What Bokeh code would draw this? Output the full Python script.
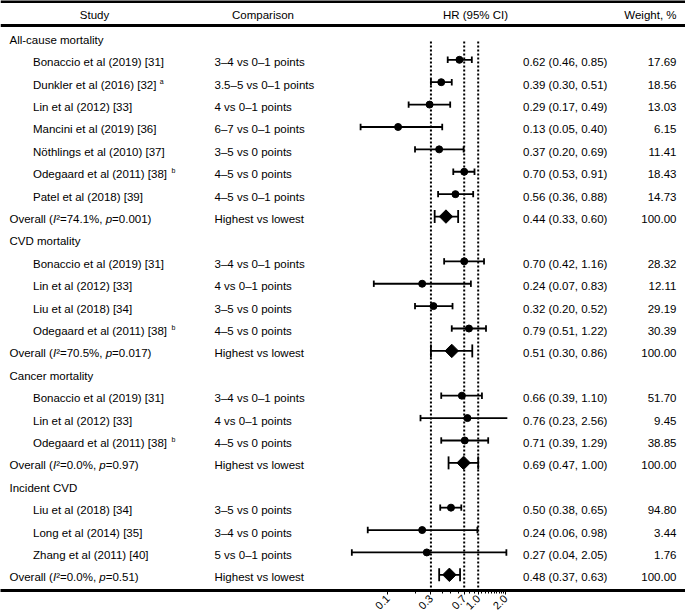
import math
from bokeh.plotting import figure
from bokeh.models import Range1d, LogScale, LogAxis, FixedTicker, NumeralTickFormatter, ColumnDataSource
from bokeh.core.properties import value
from bokeh.embed import file_html
from bokeh.resources import INLINE

# ---------------- data ----------------
sections = ["All-cause mortality", "CVD mortality", "Cancer mortality", "Incident CVD"]
studies = [
    ["Bonaccio et al (2019) [31]", "Dunkler et al (2016) [32]", "Lin et al (2012) [33]",
     "Mancini et al (2019) [36]", "Nöthlings et al (2010) [37]", "Odegaard et al (2011) [38]",
     "Patel et al (2018) [39]"],
    ["Bonaccio et al (2019) [31]", "Lin et al (2012) [33]", "Liu et al (2018) [34]",
     "Odegaard et al (2011) [38]"],
    ["Bonaccio et al (2019) [31]", "Lin et al (2012) [33]", "Odegaard et al (2011) [38]"],
    ["Liu et al (2018) [34]", "Long et al (2014) [35]", "Zhang et al (2011) [40]"],
]
study_notes = [
    ["", "a", "", "", "", "b", ""],
    ["", "", "", "b"],
    ["", "", "b"],
    ["", "", ""],
]
comparisons = [
    ["3–4 vs 0–1 points", "3.5–5 vs 0–1 points", "4 vs 0–1 points", "6–7 vs 0–1 points",
     "3–5 vs 0 points", "4–5 vs 0 points", "4–5 vs 0–1 points"],
    ["3–4 vs 0–1 points", "4 vs 0–1 points", "3–5 vs 0 points", "4–5 vs 0 points"],
    ["3–4 vs 0–1 points", "4 vs 0–1 points", "4–5 vs 0 points"],
    ["3–5 vs 0 points", "3–4 vs 0 points", "5 vs 0–1 points"],
]
hr = [
    [0.62, 0.39, 0.29, 0.13, 0.37, 0.70, 0.56],
    [0.70, 0.24, 0.32, 0.79],
    [0.66, 0.76, 0.71],
    [0.50, 0.24, 0.27],
]
ci_low = [
    [0.46, 0.30, 0.17, 0.05, 0.20, 0.53, 0.36],
    [0.42, 0.07, 0.20, 0.51],
    [0.39, 0.23, 0.39],
    [0.38, 0.06, 0.04],
]
ci_high = [
    [0.85, 0.51, 0.49, 0.40, 0.69, 0.91, 0.88],
    [1.16, 0.83, 0.52, 1.22],
    [1.10, 2.56, 1.29],
    [0.65, 0.98, 2.05],
]
weights = [
    [17.69, 18.56, 13.03, 6.15, 11.41, 18.43, 14.73],
    [28.32, 12.11, 29.19, 30.39],
    [51.70, 9.45, 38.85],
    [94.80, 3.44, 1.76],
]
overall_i2 = ["74.1%", "70.5%", "0.0%", "0.0%"]
overall_p = ["0.001", "0.017", "0.97", "0.51"]
overall_hr = [0.44, 0.51, 0.69, 0.48]
overall_low = [0.33, 0.30, 0.47, 0.37]
overall_high = [0.60, 0.86, 1.00, 0.63]
overall_weight = [100.00, 100.00, 100.00, 100.00]
overall_comparison = "Highest vs lowest"

ref_lines = [0.3, 0.7, 1.0]
x_ticks = [0.1, 0.3, 0.7, 1.0, 2.0]
x_minor_ticks = [0.2, 0.4, 0.5, 0.6, 0.8, 0.9, 1.1, 1.2, 1.3, 1.4, 1.5, 1.6, 1.7, 1.8, 1.9]
x_plot_max = 2.1

headers = ["Study", "Comparison", "HR (95% CI)", "Weight, %"]

# ---------------- layout constants (pixel units) ----------------
FONT = "Liberation Sans"
FS = 11.5
W_PX, H_PX = 685, 615
X_LEFT, X_RIGHT = 0.0, 685.0
Y_BOTTOM = 591.5
X_SEC, X_NAME, X_COMP, X_CI, X_W = 9.0, 32.5, 214.0, 522.5, 676.0
HDR_X = [94.0, 262.5, 475.0, 676.0]
HDR_Y = 14.5
ROW0, ROW_H = 39.5, 22.45
MARK_DY = -2.5
# log mapping: 0.1 at x=387.3, 1.0 at x=477.7
X_01, DECADE = 387.3, 90.4
log_start = -1 + (X_LEFT - X_01) / DECADE
log_end = -1 + (X_RIGHT - X_01) / DECADE

# Arial / Liberation Sans advance widths (1/1000 em)
AW = {' ': 278, '(': 333, ')': 333, '[': 278, ']': 278, '.': 278, ',': 278, '%': 889, '=': 584,
      '²': 333, 'B': 667, 'D': 722, 'O': 778, 'I': 278, 'a': 556, 'c': 500, 'd': 556, 'e': 556,
      'g': 556, 'i': 222, 'k': 500, 'l': 222, 'n': 556, 'o': 556, 'p': 556, 'r': 333, 't': 278,
      'u': 556, 'v': 500}


def tw(s, size=FS):
    return sum(AW.get(c, 556) for c in s) * size / 1000.0


p = figure(width=W_PX, height=H_PX, output_backend="svg", toolbar_location=None,
           x_axis_type=None, y_axis_type=None,
           x_range=Range1d(X_LEFT, X_RIGHT), y_range=Range1d(Y_BOTTOM, 0),
           min_border_left=0, min_border_right=0, min_border_top=0, min_border_bottom=0)
p.outline_line_color = None
p.background_fill_color = "white"
p.border_fill_color = "white"
p.extra_x_ranges = {"hr": Range1d(10 ** log_start, 10 ** log_end)}
p.extra_x_scales = {"hr": LogScale()}

# text collections
L = dict(x=[], y=[], t=[])      # left aligned normal
LI = dict(x=[], y=[], t=[])     # left aligned italic
R = dict(x=[], y=[], t=[])      # right aligned
SUP = dict(x=[], y=[], t=[])    # superscripts
# forest collections
pts = dict(x=[], y=[])
dia = dict(x=[], y=[])
bars = dict(x0=[], x1=[], y=[])
caps = dict(x=[], y0=[], y1=[])

row = 0
for s in range(len(sections)):
    y = ROW0 + ROW_H * row
    L["x"].append(X_SEC); L["y"].append(y); L["t"].append(sections[s])
    row += 1
    for j, name in enumerate(studies[s]):
        y = ROW0 + ROW_H * row
        ym = y + MARK_DY
        L["x"] += [X_NAME, X_COMP, X_CI]
        L["y"] += [y, y, y]
        L["t"] += [name, comparisons[s][j],
                   f"{hr[s][j]:.2f} ({ci_low[s][j]:.2f}, {ci_high[s][j]:.2f})"]
        R["x"].append(X_W); R["y"].append(y); R["t"].append(f"{weights[s][j]:.2f}")
        if study_notes[s][j]:
            SUP["x"].append(X_NAME + tw(name) + 3.5); SUP["y"].append(y - 3.5)
            SUP["t"].append(study_notes[s][j])
        pts["x"].append(hr[s][j]); pts["y"].append(ym)
        hi = min(ci_high[s][j], x_plot_max)
        bars["x0"].append(ci_low[s][j]); bars["x1"].append(hi); bars["y"].append(ym)
        caps["x"].append(ci_low[s][j]); caps["y0"].append(ym - 3.2); caps["y1"].append(ym + 3.2)
        if ci_high[s][j] <= x_plot_max:
            caps["x"].append(ci_high[s][j]); caps["y0"].append(ym - 3.2); caps["y1"].append(ym + 3.2)
        row += 1
    # overall row
    y = ROW0 + ROW_H * row
    ym = y + MARK_DY
    segs = [("Overall (", False), ("I", True), ("²=" + overall_i2[s] + ", ", False),
            ("p", True), ("=" + overall_p[s] + ")", False)]
    x = X_SEC
    for txt, it in segs:
        d = LI if it else L
        d["x"].append(x); d["y"].append(y); d["t"].append(txt)
        x += tw(txt)
    L["x"] += [X_COMP, X_CI]
    L["y"] += [y, y]
    L["t"] += [overall_comparison,
               f"{overall_hr[s]:.2f} ({overall_low[s]:.2f}, {overall_high[s]:.2f})"]
    R["x"].append(X_W); R["y"].append(y); R["t"].append(f"{overall_weight[s]:.2f}")
    dia["x"].append(overall_hr[s]); dia["y"].append(ym)
    bars["x0"].append(overall_low[s]); bars["x1"].append(overall_high[s]); bars["y"].append(ym)
    for v in (overall_low[s], overall_high[s]):
        caps["x"].append(v); caps["y0"].append(ym - 6.5); caps["y1"].append(ym + 6.5)
    row += 1

# rules
p.hspan(y=[1.5, 25.0], line_color="black", line_width=3)

# reference dotted lines
p.segment(x0=ref_lines, x1=ref_lines, y0=[41.0] * len(ref_lines), y1=[Y_BOTTOM] * len(ref_lines),
          x_range_name="hr", line_color="black", line_width=2, line_dash="2 2")

# error bars
p.segment(x0="x0", x1="x1", y0="y", y1="y", source=ColumnDataSource(bars),
          x_range_name="hr", line_color="black", line_width=1.8)
p.segment(x0="x", x1="x", y0="y0", y1="y1", source=ColumnDataSource(caps),
          x_range_name="hr", line_color="black", line_width=1.8)
p.scatter(x="x", y="y", source=ColumnDataSource(pts), x_range_name="hr",
          marker="circle", size=7, fill_color="black", line_color="black")
p.scatter(x="x", y="y", source=ColumnDataSource(dia), x_range_name="hr",
          marker="square", angle=math.pi / 4, size=9.5, fill_color="black", line_color="black")

common = dict(text_font=value(FONT), text_font_size=f"{FS}px", text_color="black",
              text_baseline="middle")
p.text(x="x", y="y", text="t", source=ColumnDataSource(L), text_align="left", **common)
p.text(x="x", y="y", text="t", source=ColumnDataSource(LI), text_align="left",
       text_font_style="italic", **common)
p.text(x="x", y="y", text="t", source=ColumnDataSource(R), text_align="right", **common)
p.text(x="x", y="y", text="t", source=ColumnDataSource(SUP), text_align="left",
       text_font=value(FONT), text_font_size="7px", text_color="black", text_baseline="middle")
p.text(x=HDR_X[:3], y=[HDR_Y] * 3, text=headers[:3], text_align="center", **common)
p.text(x=[HDR_X[3]], y=[HDR_Y], text=[headers[3]], text_align="right", **common)

# log axis
ax = LogAxis(x_range_name="hr",
             ticker=FixedTicker(ticks=x_ticks, minor_ticks=x_minor_ticks),
             formatter=NumeralTickFormatter(format="0.0"))
ax.axis_line_width = 3
ax.axis_line_color = "black"
ax.major_tick_out = 4
ax.major_tick_in = 0
ax.minor_tick_out = 3
ax.minor_tick_in = 0
ax.major_tick_line_color = "black"
ax.minor_tick_line_color = "black"
ax.major_label_orientation = math.pi / 4
ax.major_label_standoff = 2
ax.major_label_text_font = FONT
ax.major_label_text_font_size = "11px"
ax.major_label_text_color = "black"
p.add_layout(ax, "below")

open("out.html", "w").write(file_html(p, INLINE))
